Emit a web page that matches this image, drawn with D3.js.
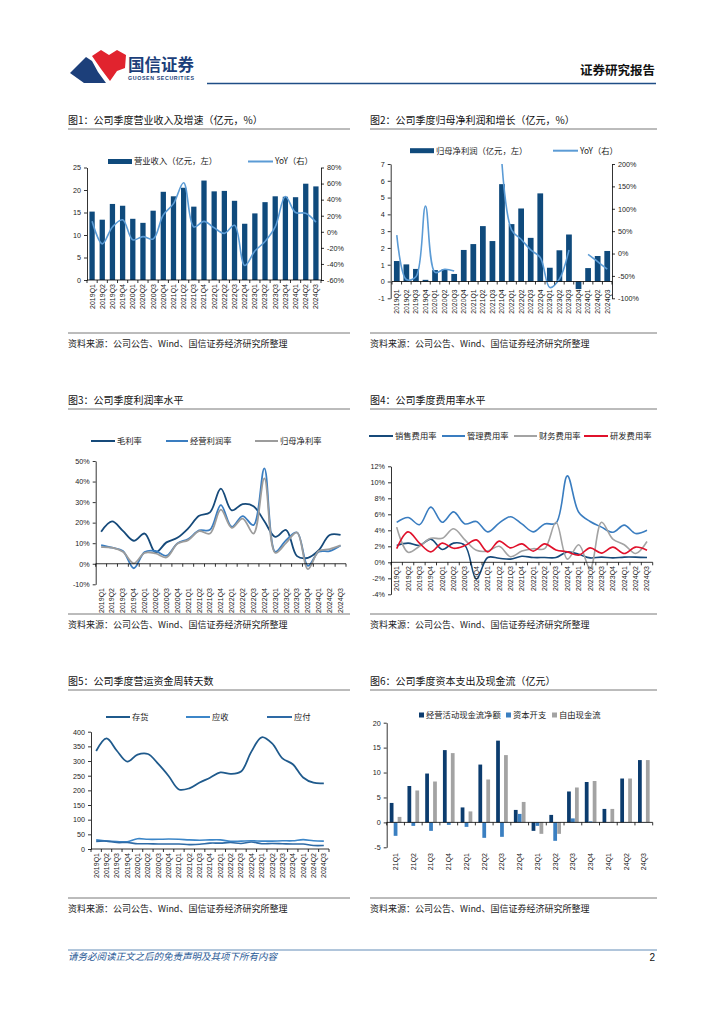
<!DOCTYPE html>
<html>
<head>
  <meta charset="utf-8">
  <title>国信证券 - 公司季度财务图表</title>
  <script src="https://d3js.org/d3.v7.min.js"></script>
  <style>
    body { margin: 0; background: #fff; }
    svg text { font-family: "Liberation Sans", Arial, "Noto Sans CJK SC", sans-serif; fill: #222; }
    svg .cjk { font-family: "Noto Sans CJK SC", "Liberation Sans", sans-serif; }
  </style>
</head>
<body>
<script>

// ---- data ----
const quarters = ["2019Q1","2019Q2","2019Q3","2019Q4","2020Q1","2020Q2","2020Q3","2020Q4",
  "2021Q1","2021Q2","2021Q3","2021Q4","2022Q1","2022Q2","2022Q3","2022Q4",
  "2023Q1","2023Q2","2023Q3","2023Q4","2024Q1","2024Q2","2024Q3"];

// fig 1: revenue (亿元) and YoY (%)
const revenue    = [15.2,13.4,16.9,16.5,13.6,12.7,15.4,19.6,18.6,20.5,16.3,22.1,19.7,19.8,17.6,12.5,14.8,17.3,18.6,18.5,18.4,21.4,20.8];
const revenueYoY = [13,-15,6,15,-10,-6,-9,21,35,61,6,13,5,-2,8,-42,-24,-12,6,44,24,23,12];

// fig 2: net profit attributable (亿元) and YoY (%), gaps where off the chart
const netProfit    = [1.22,1.02,0.75,0.1,0.68,0.74,0.45,1.88,2.23,3.3,2.41,5.8,3.42,4.35,2.6,5.25,0.82,1.86,2.8,-0.45,0.8,1.52,1.82];
const netProfitYoY = [41,-58,-52,106,-42,-35,-39,null,null,null,null,200,53,32,8,-9,-76,-57,8,null,-2,-18,-35];

// fig 3: margins (%)
const grossMargin = [15.6,20.6,16,11.2,14.7,5.5,10.4,12.6,17.2,23.3,25,36.6,26,29,28,20.7,13.1,16.4,3.7,2.9,6.6,14,14];
const opMargin    = [9,7.8,6.2,-2.2,5.7,6.2,3.9,9.9,12,16.2,16.5,28.5,18,23.2,18.8,46.4,5.8,11.5,15.2,-1,5.8,6.2,8.9];
const netMargin   = [8.1,7.8,5.8,0.2,5.3,5,3.1,9.7,11.5,15.9,14.7,26.3,17.5,22,14.7,41.5,5.3,10.2,15.2,-2.6,6.2,7.1,8.9];

// fig 4: expense ratios (%)
const sellRate  = [2.1,2.4,2.1,2.9,1.6,2.4,2.1,-2.1,0.6,0.5,0.4,0.75,0.6,0.6,0.6,1.3,1.0,0.55,0.65,0.55,0.65,0.65,0.6];
const adminRate = [5,5.6,4.7,6.9,5,6.3,4.8,5.1,3.8,4.9,5.7,4.8,3.8,4.8,4.9,10.8,6.25,5.1,4.4,3.75,4.65,3.6,4];
const finRate   = [4.4,1.25,2,3,3,4.2,2.8,1.5,1.4,2,0.7,1.4,1.7,1.7,5,0.4,2.2,-0.8,5,2.9,2.2,1.1,2.6];
const rdRate    = [1.7,3.8,2.4,1.3,2.4,1.75,2.1,2.8,1.3,2.65,1.8,2.3,1.4,2.3,1.55,1.3,0.9,1.8,1.15,1.9,1.1,1.9,1.5];

// fig 5: working capital turnover days
const inventoryDays  = [334,377,335,298,322,324,290,249,203,207,227,243,261,256,264,332,381,360,309,289,244,226,224];
const receivableDays = [31,27,25,25,35,33,33,34,33,31,30,31,31,26,27,28,27,27,28,28,32,28,27];
const payableDays    = [26,27,22,22,18,18,17,17,17,15,16,20,20,22,19,24,18,19,18,17,17,12,12];

// fig 6: cash flow (亿元)
const cfQuarters    = ["21Q1","21Q2","21Q3","21Q4","22Q1","22Q2","22Q3","22Q4","23Q1","23Q2","23Q3","23Q4","24Q1","24Q2","24Q3"];
const opCashFlow    = [3.9,7.3,9.8,14.5,3.0,11.6,16.4,2.5,-1.7,1.5,6.2,8.1,2.7,8.8,12.5];
const capex         = [-2.7,-0.7,-1.7,-0.5,-0.9,-3.1,-2.9,1.7,-0.7,-3.7,0.8,0.2,0.05,0.05,0.05];
const freeCashFlow  = [1.1,6.4,8.2,13.9,2.2,8.6,13.5,4.1,-2.3,-2.3,7.0,8.3,2.7,8.8,12.5];

// tick values
const ticksRev = [0,5,10,15,20,25];
const ticksRevYoY = [-60,-40,-20,0,20,40,60,80];
const ticksNp = [-1,0,1,2,3,4,5,6,7];
const ticksNpYoY = [-100,-50,0,50,100,150,200];
const ticksMargin = [-10,0,10,20,30,40,50];
const ticksExpense = [-4,-2,0,2,4,6,8,10,12];
const ticksDays = [0,50,100,150,200,250,300,350,400];
const ticksCf = [-5,0,5,10,15,20];

const titles = ["图1：公司季度营业收入及增速（亿元，%）","图2：公司季度归母净利润和增长（亿元，%）",
  "图3：公司季度利润率水平","图4：公司季度费用率水平",
  "图5：公司季度营运资金周转天数","图6：公司季度资本支出及现金流（亿元）"];
const sourceText = "资料来源：公司公告、Wind、国信证券经济研究所整理";

// ---- colours ----
const navy = "#0f4a7c", midBlue = "#3a7dc0", lightBlue = "#5b9bd5", grey = "#a3a3a3", red = "#e0112b";

const svg = d3.select("body").append("svg")
  .attr("width", 724).attr("height", 1024);

// ---- page header ----
const logo = svg.append("g");
logo.append("path").attr("d", "M70,73 L86,57 L92,61 L98,72 L106,83 L84,83 Z").attr("fill", "#1c3f7a");
logo.append("path").attr("d", "M92,56 L101,50 L109,55 L117,50 L126,55 L125,68 L117,71 L110,81 L101,69 Z").attr("fill", "#e1232e");
svg.append("text").attr("class", "cjk").attr("x", 128).attr("y", 71)
  .attr("font-size", 16.5).attr("font-weight", "bold").style("fill", "#1c3f7a").text("国信证券");
svg.append("text").attr("x", 128).attr("y", 80).attr("font-size", 5.3).attr("font-weight", "bold")
  .attr("textLength", 66).style("fill", "#1c3f7a").text("GUOSEN SECURITIES");
svg.append("text").attr("class", "cjk").attr("x", 655).attr("y", 75).attr("text-anchor", "end")
  .attr("font-size", 12.5).attr("font-weight", "bold").style("fill", "#111").text("证券研究报告");
svg.append("line").attr("x1", 207).attr("x2", 656).attr("y1", 83.5).attr("y2", 83.5)
  .attr("stroke", "#1f4e86").attr("stroke-width", 1.6);

// ---- frame of each figure: title, rules, source ----
const cols = [[68, 350], [370, 657]];
const rows = [[120, 333, 344], [400, 614, 625], [681, 898, 909]];
titles.forEach((t, i) => {
  const c = cols[i % 2], r = rows[Math.floor(i / 2)];
  svg.append("text").attr("class", "cjk").attr("x", c[0]).attr("y", r[0] + 3.5)
    .attr("font-size", 10).style("fill", "#111").text(t);
  svg.append("line").attr("x1", c[0]).attr("x2", c[1]).attr("y1", r[0] + 9).attr("y2", r[0] + 9)
    .attr("stroke", "#555").attr("stroke-width", 0.8);
  svg.append("line").attr("x1", c[0]).attr("x2", c[1]).attr("y1", r[1]).attr("y2", r[1])
    .attr("stroke", "#555").attr("stroke-width", 0.8);
  svg.append("text").attr("class", "cjk").attr("x", c[0]).attr("y", r[2] + 3)
    .attr("font-size", 9).style("fill", "#222").text(sourceText);
});

// ---- footer ----
svg.append("line").attr("x1", 68).attr("x2", 657).attr("y1", 950).attr("y2", 950)
  .attr("stroke", "#3b6ea5").attr("stroke-width", 0.8);
svg.append("text").attr("class", "cjk").attr("x", 68).attr("y", 960).attr("font-size", 9.5)
  .attr("font-style", "italic").style("fill", "#2a5a96").text("请务必阅读正文之后的免责声明及其项下所有内容");
svg.append("text").attr("x", 655).attr("y", 961).attr("text-anchor", "end").attr("font-size", 10)
  .style("fill", "#111").text("2");

// ---- helpers ----
const center = (x, d) => x(d) + (x.bandwidth ? x.bandwidth() / 2 : 0);

function yAxis(g, y, xPos, vals, fmt, right) {
  const ax = (right ? d3.axisRight(y) : d3.axisLeft(y))
    .tickValues(vals).tickSize(3).tickSizeOuter(0).tickPadding(3).tickFormat(fmt);
  const a = g.append("g").attr("transform", `translate(${xPos},0)`).call(ax);
  a.attr("font-family", null).attr("font-size", 7.2);
  a.select(".domain").attr("stroke", "#000").attr("stroke-width", 0.8);
  a.selectAll(".tick line").attr("stroke", "#000").attr("stroke-width", 0.8);
  a.selectAll(".tick text").style("fill", "#222");
}

function catAxis(g, x, yPos, labelTop, size) {
  const dom = x.domain(), step = x.step();
  const r = x.range();
  g.append("line").attr("x1", r[0]).attr("x2", r[1]).attr("y1", yPos).attr("y2", yPos)
    .attr("stroke", "#000").attr("stroke-width", 0.8);
  const bounds = dom.map(d => center(x, d) - step / 2).concat([center(x, dom[dom.length - 1]) + step / 2]);
  g.selectAll(null).data(bounds).join("line")
    .attr("x1", d => d).attr("x2", d => d).attr("y1", yPos).attr("y2", yPos + 3)
    .attr("stroke", "#000").attr("stroke-width", 0.8);
  g.selectAll(null).data(dom).join("text")
    .attr("transform", d => `translate(${center(x, d)},${labelTop}) rotate(-90)`)
    .attr("text-anchor", "end").attr("dy", "0.35em").attr("font-size", size || 7)
    .text(d => d);
}

function lineLegend(g, items, y) {
  items.forEach(it => {
    g.append("line").attr("x1", it.x).attr("x2", it.x + it.w).attr("y1", y).attr("y2", y)
      .attr("stroke", it.color).attr("stroke-width", 2);
    g.append("text").attr("class", "cjk").attr("x", it.x + it.w + 2).attr("y", y).attr("dy", "0.35em")
      .attr("font-size", 8.3).text(it.label);
  });
}

function drawLine(g, x, y, values, color, width) {
  const pts = quarters.map((q, i) => [center(x, q), values[i]]);
  g.append("path").datum(pts)
    .attr("fill", "none").attr("stroke", color).attr("stroke-width", width || 1.6)
    .attr("d", d3.line().defined(d => d[1] != null)
      .x(d => d[0]).y(d => y(d[1])).curve(d3.curveCatmullRom.alpha(0.5)));
}

// ================= 图1 =================
{
  const g = svg.append("g");
  const x = d3.scaleBand().domain(quarters).range([87, 321]).paddingInner(0.48).paddingOuter(0.24);
  const yL = d3.scaleLinear().domain([0, 25]).range([280, 167.5]);
  const yR = d3.scaleLinear().domain([-60, 80]).range([280, 167.5]);

  g.selectAll(null).data(quarters).join("rect")
    .attr("x", d => x(d)).attr("width", x.bandwidth())
    .attr("y", (d, i) => yL(revenue[i])).attr("height", (d, i) => yL(0) - yL(revenue[i]))
    .attr("fill", navy);
  drawLine(g, x, yR, revenueYoY, lightBlue, 1.6);

  yAxis(g, yL, 87, ticksRev, d => d, false);
  yAxis(g, yR, 321, ticksRevYoY, d => d + "%", true);
  catAxis(g, x, yL(0), 284);

  g.append("rect").attr("x", 108).attr("y", 159).attr("width", 24).attr("height", 5).attr("fill", navy);
  g.append("text").attr("class", "cjk").attr("x", 134).attr("y", 161.5).attr("dy", "0.35em")
    .attr("font-size", 8.3).text("营业收入（亿元，左）");
  lineLegend(g, [{x: 248, w: 25, color: lightBlue, label: "YoY（右）"}], 161.5);
}

// ================= 图2 =================
{
  const g = svg.append("g");
  const x = d3.scaleBand().domain(quarters).range([392, 612]).paddingInner(0.4).paddingOuter(0.2);
  const yL = d3.scaleLinear().domain([-1, 7]).range([298.3, 164]);
  const yR = d3.scaleLinear().domain([-100, 200]).range([298.3, 164]);

  svg.append("clipPath").attr("id", "clip2").append("rect")
    .attr("x", 390).attr("y", yR(200) - 1).attr("width", 224).attr("height", yR(-100) - yR(200) + 2);

  g.selectAll(null).data(quarters).join("rect")
    .attr("x", d => x(d)).attr("width", x.bandwidth())
    .attr("y", (d, i) => yL(Math.max(0, netProfit[i])))
    .attr("height", (d, i) => Math.abs(yL(0) - yL(netProfit[i])))
    .attr("fill", navy);
  const lg = g.append("g").attr("clip-path", "url(#clip2)");
  drawLine(lg, x, yR, netProfitYoY, lightBlue, 1.6);

  yAxis(g, yL, 390.7, ticksNp, d => d, false);
  yAxis(g, yR, 612, ticksNpYoY, d => d + "%", true);
  catAxis(g, x, yL(0), 289.5, 6.8);

  g.append("rect").attr("x", 410).attr("y", 148.2).attr("width", 24).attr("height", 5).attr("fill", navy);
  g.append("text").attr("class", "cjk").attr("x", 436).attr("y", 150.7).attr("dy", "0.35em")
    .attr("font-size", 8.3).text("归母净利润（亿元，左）");
  lineLegend(g, [{x: 553, w: 25, color: lightBlue, label: "YoY（右）"}], 150.7);
}

// ================= 图3 =================
{
  const g = svg.append("g");
  const x = d3.scalePoint().domain(quarters).range([95.7, 346]).padding(0.5);
  const y = d3.scaleLinear().domain([-10, 50]).range([584.3, 461]);

  drawLine(g, x, y, grossMargin, "#164a7a", 1.8);
  drawLine(g, x, y, opMargin, midBlue, 1.8);
  drawLine(g, x, y, netMargin, "#9c9c9c", 1.8);

  yAxis(g, y, 95.7, ticksMargin, d => d + "%", false);
  catAxis(g, x, y(0), 588);

  lineLegend(g, [
    {x: 91, w: 24, color: "#164a7a", label: "毛利率"},
    {x: 166, w: 22, color: midBlue, label: "经营利润率"},
    {x: 255, w: 23, color: "#9c9c9c", label: "归母净利率"}
  ], 441);
}

// ================= 图4 =================
{
  const g = svg.append("g");
  const x = d3.scalePoint().domain(quarters).range([391, 652.7]).padding(0.5);
  const y = d3.scaleLinear().domain([-4, 12]).range([594.3, 466.3]);

  drawLine(g, x, y, sellRate, "#164a7a", 1.6);
  drawLine(g, x, y, adminRate, midBlue, 1.6);
  drawLine(g, x, y, finRate, grey, 1.6);
  drawLine(g, x, y, rdRate, red, 1.6);

  yAxis(g, y, 391, ticksExpense, d => d + "%", false);
  catAxis(g, x, y(0), 566);

  lineLegend(g, [
    {x: 369, w: 24, color: "#164a7a", label: "销售费用率"},
    {x: 442, w: 23, color: midBlue, label: "管理费用率"},
    {x: 514, w: 23, color: grey, label: "财务费用率"},
    {x: 584, w: 24, color: red, label: "研发费用率"}
  ], 436);
}

// ================= 图5 =================
{
  const g = svg.append("g");
  const x = d3.scalePoint().domain(quarters).range([91, 329]).padding(0.5);
  const y = d3.scaleLinear().domain([0, 400]).range([849, 731.7]);

  drawLine(g, x, y, receivableDays, "#3c86c8", 1.6);
  drawLine(g, x, y, payableDays, "#2e6aa5", 1.6);
  drawLine(g, x, y, inventoryDays, "#1f5a8c", 1.8);

  yAxis(g, y, 91, ticksDays, d => d, false);
  catAxis(g, x, y(0), 853);

  lineLegend(g, [
    {x: 106, w: 24, color: "#1f5a8c", label: "存货"},
    {x: 186, w: 24, color: "#3c86c8", label: "应收"},
    {x: 267, w: 25, color: "#2e6aa5", label: "应付"}
  ], 717);
}

// ================= 图6 =================
{
  const g = svg.append("g");
  const x = d3.scaleBand().domain(cfQuarters).range([386.7, 652.7]).paddingInner(0.32).paddingOuter(0.16);
  const series = [
    {name: "经营活动现金流净额", values: opCashFlow, color: "#0c3c6e"},
    {name: "资本开支", values: capex, color: "#3a7fc1"},
    {name: "自由现金流", values: freeCashFlow, color: grey}
  ];
  const xs = d3.scaleBand().domain(series.map(s => s.name)).range([0, x.bandwidth()]).padding(0.05);
  const y = d3.scaleLinear().domain([-5, 20]).range([847.3, 722.7]);

  series.forEach(s => {
    g.selectAll(null).data(cfQuarters).join("rect")
      .attr("x", d => x(d) + xs(s.name)).attr("width", xs.bandwidth())
      .attr("y", (d, i) => y(Math.max(0, s.values[i])))
      .attr("height", (d, i) => Math.abs(y(0) - y(s.values[i])))
      .attr("fill", s.color);
  });

  yAxis(g, y, 386.7, ticksCf, d => d, false);
  catAxis(g, x, y(0), 853);

  const lx = [419, 506, 552];
  series.forEach((s, i) => {
    g.append("rect").attr("x", lx[i]).attr("y", 712.5).attr("width", 5).attr("height", 5).attr("fill", s.color);
    g.append("text").attr("class", "cjk").attr("x", lx[i] + 7).attr("y", 715).attr("dy", "0.35em")
      .attr("font-size", 8.3).text(s.name);
  });
}

</script>
</body>
</html>
